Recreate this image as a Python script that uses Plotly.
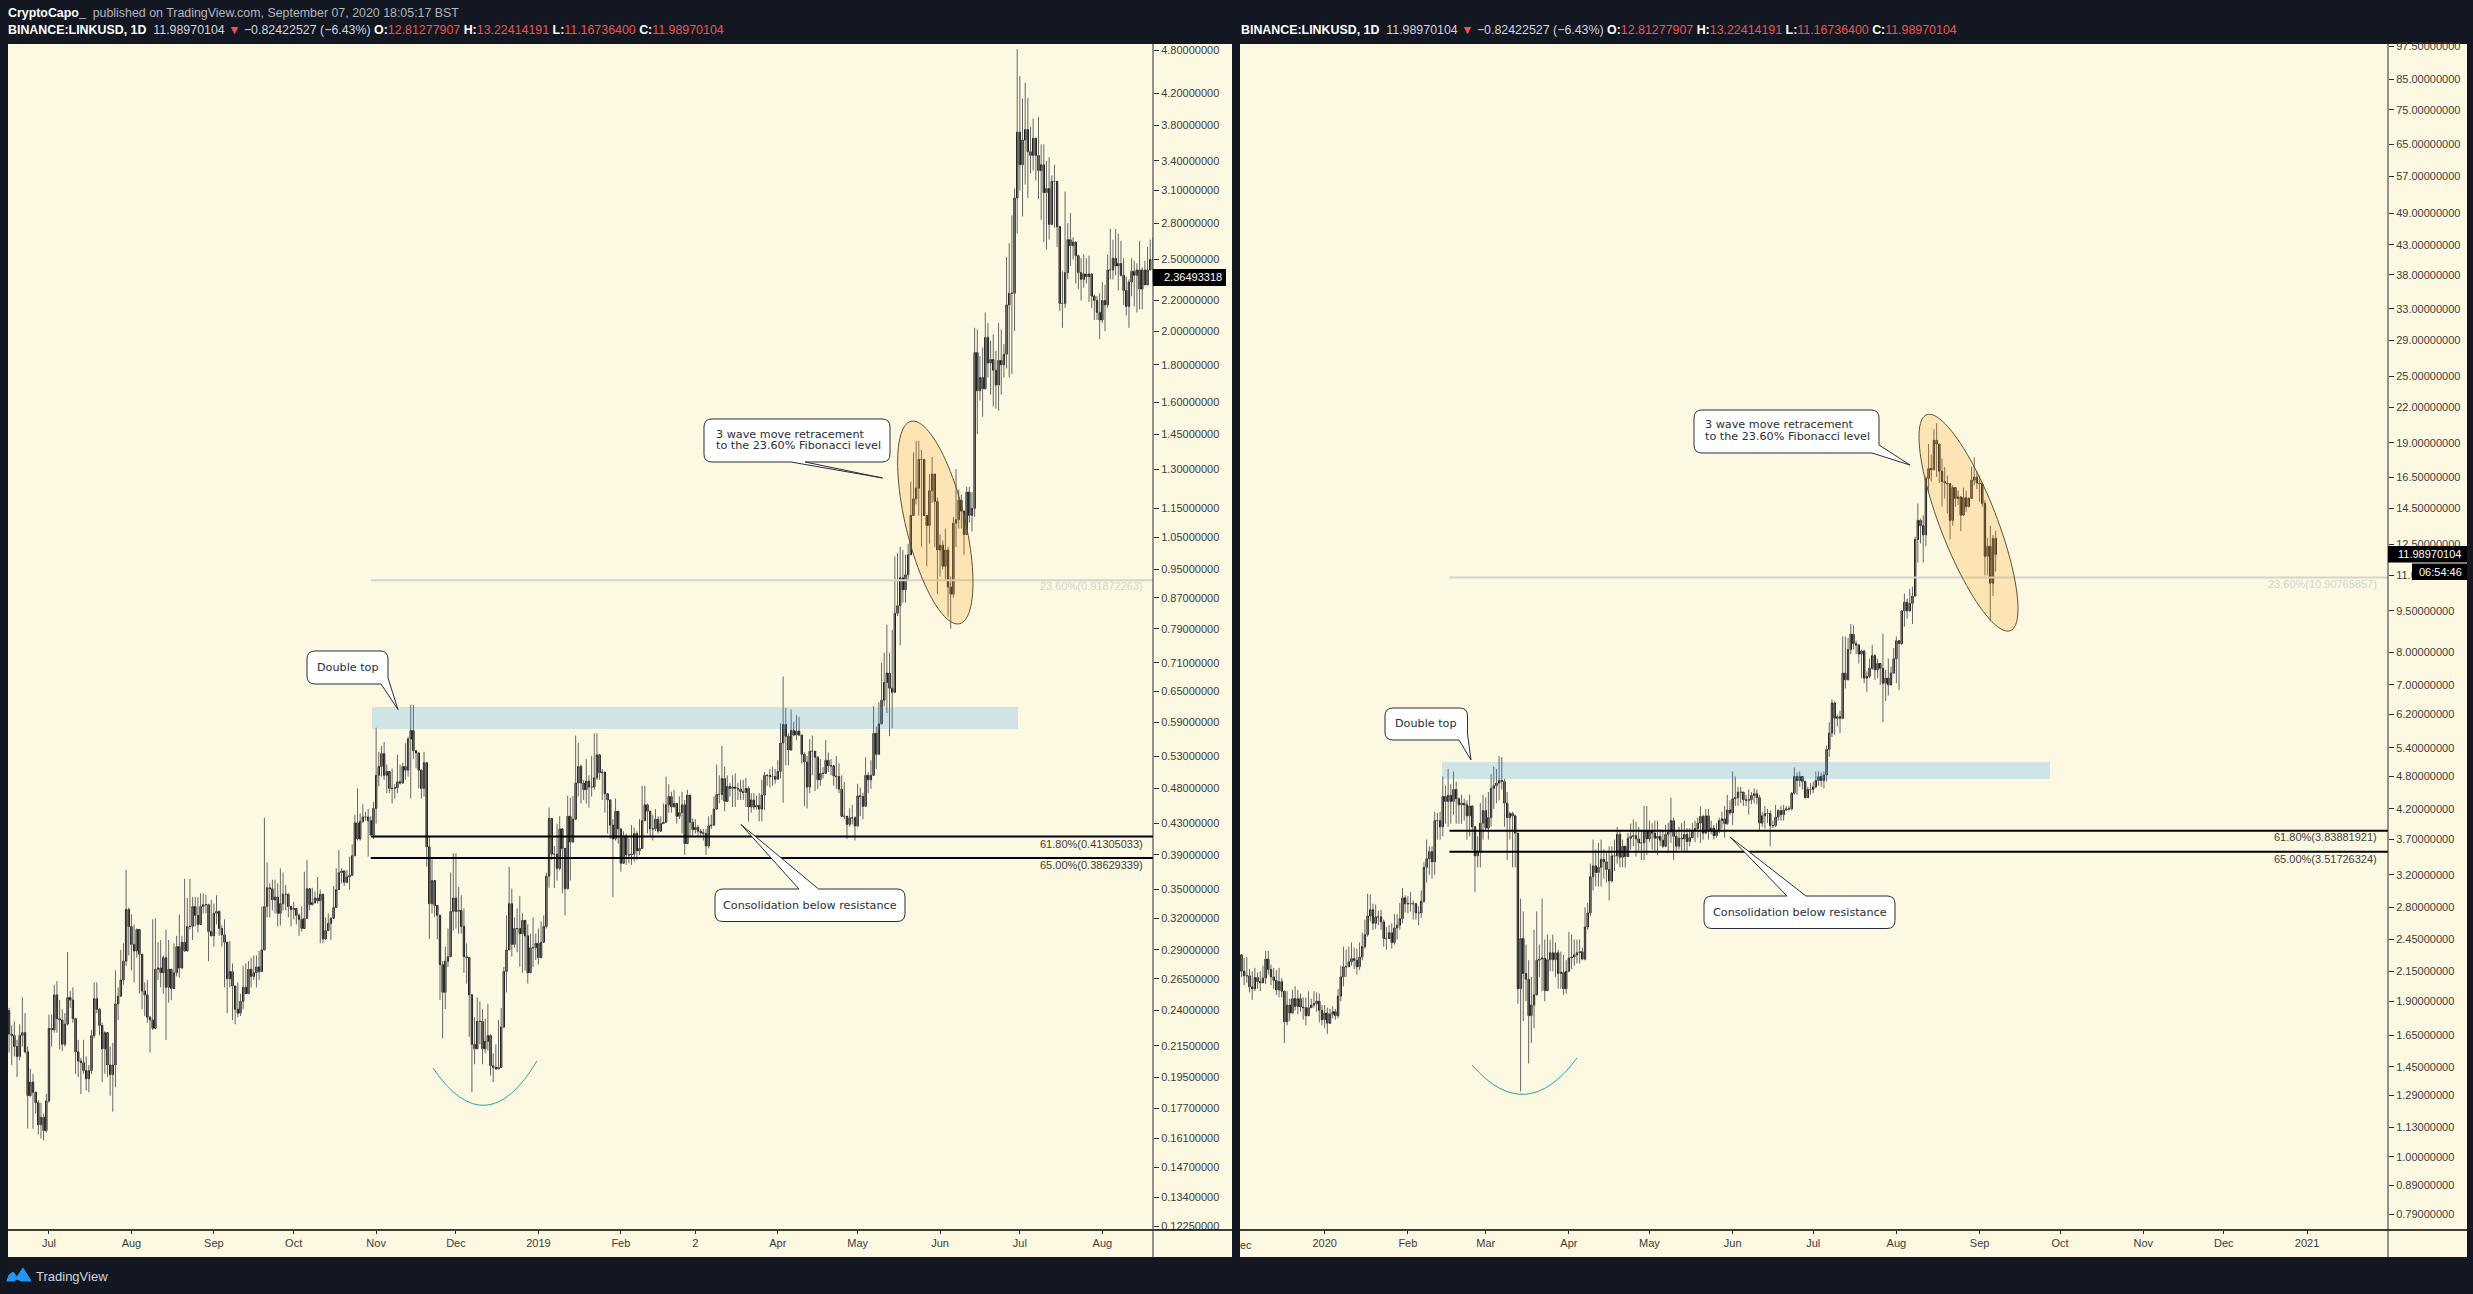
import plotly.graph_objects as go
import pandas as pd

# ---------- values ----------
L_START = "2018-06-16"
L_OPEN0 = 0.24
L_CLOSE = [
.223,.222,.2145,.208,.222,.224,.211,.184,.192,.186,
.18,.168,.172,.165,.181,.227,.226,.252,.234,.233,
.216,.23,.25,.248,.234,.211,.205,.204,.199,.194,
.199,.222,.249,.241,.229,.213,.224,.2025,.1965,.2025,
.245,.251,.264,.28,.329,.312,.295,.289,.309,.286,
.255,.252,.235,.233,.227,.273,.274,.27,.283,.258,
.273,.257,.27,.293,.274,.297,.289,.312,.312,.332,
.323,.314,.332,.334,.334,.307,.303,.325,.327,.31,
.304,.297,.265,.271,.259,.241,.238,.247,.258,.253,
.273,.267,.27,.275,.271,.29,.332,.352,.351,.339,
.342,.325,.335,.345,.345,.332,.329,.33,.323,.319,
.31,.32,.351,.334,.336,.341,.338,.345,.30,.308,
.315,.32,.331,.35,.369,.371,.358,.364,.366,.389,
.431,.41,.433,.439,.439,.434,.415,.451,.50,.514,
.535,.50,.506,.48,.48,.481,.49,.488,.514,.508,
.56,.575,.54,.536,.508,.48,.52,.40,.335,.36,
.333,.323,.277,.254,.28,.284,.327,.341,.327,.328,
.312,.284,.283,.252,.216,.213,.232,.232,.213,.218,
.222,.202,.201,.2,.201,.228,.271,.29,.335,.295,
.31,.31,.305,.318,.303,.27,.292,.292,.296,.283,
.297,.312,.365,.437,.391,.391,.374,.423,.398,.351,
.44,.406,.436,.488,.514,.488,.478,.491,.482,.482,
.496,.533,.504,.505,.472,.463,.428,.41,.447,.423,
.38,.414,.39,.39,.391,.417,.395,.398,.434,.456,
.447,.423,.423,.436,.42,.43,.432,.456,.468,.453,
.458,.44,.445,.456,.404,.47,.432,.422,.425,.42,
.418,.417,.401,.427,.428,.45,.471,.471,.495,.461,
.483,.48,.482,.48,.479,.475,.474,.48,.453,.463,
.453,.455,.45,.47,.5,.5,.498,.498,.494,.506,
.553,.586,.565,.541,.575,.567,.574,.567,.534,.521,
.482,.539,.539,.529,.493,.503,.503,.524,.515,.515,
.499,.498,.479,.44,.44,.429,.438,.438,.427,.469,
.468,.454,.5,.493,.5,.57,.534,.587,.632,.668,
.688,.656,.648,.829,.849,.926,.892,.935,.995,1.125,
1.185,1.225,1.34,1.34,1.125,1.09,1.215,1.28,1.175,1.01,
1.025,.96,1.01,.9,.88,1.098,1.11,1.18,1.14,1.06,
1.21,1.125,1.15,1.87,1.66,1.73,1.67,1.96,1.81,1.83,
1.77,1.69,1.825,1.8,1.86,2.17,2.25,2.25,3.03,3.72,
3.36,3.63,3.75,3.5,3.46,3.65,3.46,3.3,3.36,3.08,
3.12,2.79,3.19,3.19,2.77,2.18,2.18,2.4,2.66,2.61,
2.64,2.53,2.4,2.35,2.39,2.37,2.39,2.23,2.2,2.12,
2.07,2.2,2.17,2.42,2.42,2.51,2.45,2.47,2.38,2.27,
2.16,2.33,2.41,2.38,2.42,2.28,2.42,2.31,2.42,2.5,
2.5]
L_HIGH = [
.242,.229,.232,.219,.23,.25,.238,.2145,.2,.197,
.185,.1815,.18,.174,.185,.237,.237,.26,.263,.248,
.241,.238,.288,.255,.258,.233,.219,.207,.219,.208,
.2025,.226,.262,.262,.242,.231,.225,.2145,.2145,.217,
.272,.258,.29,.296,.372,.331,.324,.314,.31,.29,
.258,.262,.264,.236,.319,.32,.297,.299,.285,.309,
.299,.272,.296,.303,.324,.303,.362,.341,.362,.342,
.342,.342,.346,.346,.344,.335,.339,.335,.344,.328,
.313,.319,.296,.298,.278,.246,.262,.253,.276,.278,
.28,.283,.285,.285,.289,.332,.438,.381,.357,.361,
.361,.357,.374,.369,.355,.346,.333,.337,.328,.325,
.332,.37,.384,.346,.352,.348,.364,.35,.325,.321,
.325,.321,.354,.374,.396,.374,.372,.372,.388,.403,
.442,.48,.444,.457,.446,.45,.44,.46,.58,.538,
.548,.555,.517,.503,.511,.486,.533,.517,.52,.553,
.564,.623,.623,.541,.538,.51,.538,.52,.413,.387,
.339,.333,.301,.28,.293,.31,.369,.392,.392,.353,
.344,.33,.296,.282,.25,.235,.25,.247,.241,.234,
.245,.223,.21,.216,.233,.242,.275,.323,.376,.351,
.321,.33,.343,.325,.31,.314,.305,.321,.305,.31,
.317,.323,.369,.452,.437,.401,.43,.44,.417,.398,
.469,.466,.469,.566,.553,.517,.493,.526,.5,.531,
.57,.57,.533,.51,.498,.465,.463,.436,.465,.428,
.423,.42,.417,.414,.428,.425,.42,.436,.484,.484,
.458,.447,.442,.45,.44,.44,.458,.498,.486,.475,
.478,.45,.468,.475,.463,.478,.449,.437,.436,.428,
.423,.423,.423,.44,.442,.468,.517,.5,.548,.514,
.5,.488,.5,.503,.488,.493,.493,.496,.483,.473,
.473,.469,.473,.493,.505,.5,.51,.513,.51,.524,
.588,.681,.617,.57,.614,.591,.603,.6,.563,.537,
.531,.56,.566,.534,.531,.526,.513,.558,.537,.526,
.51,.531,.519,.5,.49,.44,.451,.456,.44,.487,
.481,.473,.529,.505,.524,.62,.582,.628,.71,.733,
.8,.733,.787,.99,1.0,1.02,1.01,.995,1.03,1.25,
1.37,1.42,1.42,1.38,1.25,1.11,1.28,1.35,1.28,1.19,
1.06,1.04,1.08,1.02,.93,1.12,1.3,1.22,1.2,1.12,
1.23,1.23,1.21,2.02,2.01,1.85,1.9,2.12,2.05,1.94,
1.98,1.88,2.05,2.01,1.92,2.52,2.63,2.87,3.12,4.82,
4.43,4.13,4.34,4.14,3.78,3.88,3.65,3.9,3.58,3.58,
3.4,3.44,3.25,3.36,3.19,2.72,2.41,3.09,2.8,2.89,
2.68,2.58,2.54,2.51,2.54,2.51,2.53,2.31,2.24,2.23,
2.25,2.33,2.31,2.54,2.75,2.66,2.75,2.71,2.65,2.51,
2.37,2.35,2.51,2.49,2.47,2.65,2.44,2.49,2.6,2.66,
2.68]
L_LOW = [
.2105,.2025,.208,.195,.2055,.2145,.21,.166,.1835,.166,
.174,.163,.161,.16,.164,.18,.2145,.224,.224,.2125,
.2115,.2145,.229,.242,.231,.197,.195,.185,.197,.187,
.186,.197,.22,.238,.222,.192,.197,.195,.184,.175,
.189,.233,.253,.26,.276,.285,.272,.262,.283,.253,
.241,.236,.231,.2105,.226,.264,.264,.258,.253,.219,
.246,.248,.263,.267,.266,.276,.299,.303,.309,.299,
.312,.306,.325,.325,.325,.28,.303,.293,.314,.303,
.293,.258,.238,.258,.233,.23,.235,.236,.241,.253,
.255,.258,.264,.258,.264,.276,.325,.321,.321,.328,
.325,.312,.313,.328,.328,.321,.312,.319,.314,.303,
.307,.319,.334,.328,.333,.335,.335,.296,.296,.299,
.314,.299,.325,.35,.364,.357,.354,.357,.35,.384,
.404,.408,.408,.431,.434,.388,.416,.41,.43,.483,
.498,.493,.473,.473,.458,.465,.473,.486,.493,.493,
.498,.465,.526,.511,.48,.465,.468,.376,.3,.325,
.321,.3,.248,.22,.241,.275,.305,.308,.31,.305,
.305,.27,.261,.221,.186,.203,.215,.216,.203,.21,
.212,.196,.192,.2,.2,.201,.227,.254,.29,.284,
.292,.288,.275,.27,.272,.261,.278,.275,.281,.277,
.296,.3,.31,.352,.384,.352,.36,.372,.346,.323,
.35,.36,.406,.436,.468,.458,.463,.458,.452,.468,
.478,.493,.493,.463,.445,.417,.41,.342,.408,.404,
.37,.38,.378,.38,.378,.382,.384,.39,.408,.436,
.417,.414,.408,.42,.417,.42,.43,.44,.445,.445,
.453,.43,.436,.417,.39,.417,.414,.414,.417,.414,
.414,.408,.39,.398,.423,.428,.453,.458,.463,.447,
.463,.468,.453,.453,.463,.463,.463,.453,.433,.445,
.449,.449,.433,.433,.449,.484,.481,.484,.487,.495,
.495,.459,.516,.516,.553,.565,.558,.565,.519,.454,
.451,.473,.5,.476,.479,.484,.495,.505,.505,.5,
.484,.479,.473,.449,.436,.41,.426,.429,.408,.425,
.44,.436,.464,.473,.479,.534,.51,.534,.602,.62,
.607,.565,.579,.684,.822,.75,.857,.857,.92,1.03,
1.125,1.165,1.125,1.02,1.125,.96,1.03,1.17,1.02,.88,
.93,.95,.92,.82,.79,.87,1.02,1.08,1.08,.995,
1.07,1.1,1.07,1.12,1.45,1.61,1.53,1.67,1.73,1.64,
1.58,1.57,1.56,1.64,1.73,1.78,1.73,1.75,2.0,2.71,
3.1,2.86,3.16,3.03,3.27,3.3,3.2,3.02,2.83,2.64,
2.58,2.66,2.9,2.76,2.6,2.13,2.02,2.15,2.35,2.45,
2.5,2.32,2.28,2.2,2.29,2.32,2.19,2.15,2.07,2.07,
1.95,2.05,2.0,2.15,2.35,2.35,2.38,2.27,2.37,2.17,
2.1,2.02,2.23,2.16,2.12,2.14,2.14,2.31,2.37,2.42,
2.32]

R_START = "2019-12-01"
R_OPEN0 = 2.3
R_CLOSE = [
2.15,2.11,2.11,2.015,2.0,2.095,2.06,2.05,2.09,2.26,
2.165,2.1,2.07,1.99,2.06,1.98,1.745,1.87,1.81,1.92,
1.86,1.92,1.855,1.85,1.79,1.85,1.87,1.88,1.9,1.83,
1.76,1.81,1.735,1.8,1.82,1.79,1.94,2.1,2.19,2.19,
2.235,2.265,2.25,2.19,2.28,2.38,2.5,2.7,2.77,2.62,
2.69,2.69,2.635,2.46,2.46,2.52,2.42,2.57,2.6,2.67,
2.91,2.84,2.84,2.84,2.84,2.735,2.735,2.87,3.3,3.42,
3.52,3.375,4.0,4.0,3.9,4.42,4.33,4.44,4.33,4.55,
4.38,4.27,4.3,4.27,4.08,4.25,3.9,3.46,3.53,3.96,
4.17,3.88,4.05,4.57,4.62,4.67,4.72,4.7,4.3,4.05,
4.12,4.08,3.8,2.0,2.46,2.13,2.08,1.79,1.87,1.95,
2.25,2.26,2.27,1.985,2.255,2.32,2.255,2.32,2.13,2.14,
2.0,2.15,2.27,2.28,2.3,2.32,2.33,2.26,2.58,2.735,
3.175,3.32,3.23,3.3,3.41,3.375,3.27,3.12,3.46,3.46,
3.78,3.44,3.6,3.45,3.72,3.75,3.76,3.71,3.65,3.65,
3.84,3.71,3.84,3.8,3.72,3.75,3.69,3.6,3.78,3.82,
4.0,3.75,3.6,3.72,3.71,3.78,3.67,3.73,3.84,3.87,
3.96,4.07,3.8,4.08,3.84,3.88,3.76,3.85,4.0,4.03,
3.95,4.18,4.13,4.38,4.4,4.5,4.5,4.36,4.35,4.36,
4.44,4.47,4.4,3.96,4.08,4.12,4.12,3.92,3.92,4.06,
4.17,4.1,4.18,4.2,4.2,4.48,4.8,4.72,4.8,4.7,
4.4,4.55,4.55,4.6,4.72,4.8,4.72,4.83,5.37,5.74,
6.5,6.1,6.14,6.1,7.35,7.15,8.1,8.63,8.3,8.25,
7.95,8.05,7.2,7.25,7.5,7.9,7.45,7.65,7.5,7.05,
7.2,7.0,7.35,7.8,8.4,8.3,9.5,9.85,9.5,9.8,
10.1,12.75,13.8,13.5,13.0,16.4,17.1,17.0,19.2,18.9,
16.9,16.2,16.1,16.05,13.8,15.8,15.1,15.2,14.1,15.15,
14.6,15.1,16.3,16.5,16.1,16.05,14.8,11.9,12.4,10.65,
12.81277907,11.98970104]
R_HIGH = [
2.29,2.27,2.28,2.17,2.15,2.18,2.14,2.15,2.2,2.34,
2.34,2.21,2.18,2.16,2.18,2.09,1.98,1.98,1.92,1.99,
2.02,1.99,1.96,1.93,1.93,1.98,1.92,1.98,1.97,1.96,
1.87,1.87,1.85,1.84,1.86,1.84,2.0,2.2,2.38,2.35,
2.38,2.42,2.37,2.36,2.42,2.52,2.66,2.96,2.95,2.84,
2.83,2.76,2.77,2.66,2.58,2.6,2.62,2.72,2.72,2.85,
3.03,2.94,2.93,2.98,2.88,2.83,2.81,3.0,3.37,3.7,
3.6,3.6,4.15,4.13,4.15,4.8,4.62,4.95,4.65,4.9,
4.7,4.4,4.45,4.38,4.35,4.45,4.25,3.65,3.75,4.3,
4.45,4.4,4.5,4.85,5.0,4.95,5.22,5.2,4.75,4.5,
4.15,4.15,4.1,3.8,2.9,2.75,2.4,2.25,2.1,2.55,
2.75,2.4,2.9,2.45,2.5,2.45,2.5,2.42,2.35,2.33,
2.3,2.25,2.53,2.5,2.45,2.45,2.45,2.37,2.8,2.85,
3.35,3.7,3.55,3.65,3.7,3.55,3.5,3.6,3.6,3.7,
3.9,3.85,3.7,3.6,3.8,3.95,4.02,3.98,3.9,3.85,
4.25,4.25,4.0,3.96,4.0,4.0,3.86,3.84,3.93,3.96,
4.4,4.05,3.85,3.9,3.96,4.0,3.88,3.88,3.96,4.0,
4.05,4.24,4.1,4.2,4.2,4.0,3.93,3.96,4.05,4.15,
4.25,4.45,4.35,4.9,4.8,4.6,4.6,4.4,4.45,4.55,
4.5,4.57,4.55,4.45,4.15,4.25,4.2,4.17,4.0,4.27,
4.2,4.25,4.27,4.25,4.25,4.5,4.98,4.88,4.9,4.8,
4.72,4.6,4.67,4.7,4.9,4.9,4.88,4.9,5.45,6.0,
6.6,6.55,6.2,6.3,8.55,8.55,8.5,9.0,8.95,8.4,
8.3,8.1,8.1,7.4,7.8,8.25,7.95,7.8,7.65,8.65,
7.45,7.8,7.55,8.15,8.55,8.4,9.4,10.2,10.0,10.4,
10.5,12.9,14.8,13.9,14.1,16.55,18.9,18.1,20.1,20.6,
18.9,17.8,17.2,16.6,16.05,15.95,15.7,15.6,14.9,15.8,
15.6,15.2,17.2,17.9,16.9,16.6,16.05,15.0,12.85,13.5,
13.0,13.22414191]
R_LOW = [
2.1,2.03,2.05,1.97,1.91,1.98,2.0,1.98,2.06,2.04,
2.12,2.03,2.0,1.95,1.93,1.93,1.6,1.72,1.75,1.85,
1.83,1.8,1.82,1.76,1.72,1.79,1.85,1.85,1.82,1.74,
1.72,1.7,1.66,1.73,1.77,1.76,1.77,1.9,2.02,2.1,
2.19,2.2,2.17,2.12,2.16,2.25,2.36,2.48,2.64,2.55,
2.56,2.6,2.55,2.38,2.35,2.47,2.36,2.4,2.45,2.55,
2.62,2.74,2.73,2.75,2.66,2.66,2.6,2.68,2.85,3.1,
3.2,3.15,3.2,3.7,3.7,3.75,3.95,3.9,3.95,4.1,
3.95,3.95,3.95,4.0,3.7,3.75,3.55,2.98,3.3,3.3,
3.7,3.85,3.7,3.9,4.2,4.3,4.35,4.55,3.9,3.4,
3.7,3.3,3.3,1.88,1.31,1.75,1.9,1.47,1.6,1.7,
2.05,2.1,1.98,1.9,2.1,2.15,2.15,2.1,2.0,2.0,
1.95,1.96,2.15,2.17,2.2,2.22,2.22,2.25,2.25,2.55,
2.7,3.0,3.05,3.05,3.05,3.15,3.1,2.88,3.1,3.25,
3.35,3.3,3.3,3.3,3.5,3.55,3.6,3.45,3.5,3.4,
3.4,3.47,3.66,3.55,3.53,3.47,3.6,3.57,3.67,3.5,
3.65,3.4,3.5,3.55,3.52,3.52,3.52,3.6,3.73,3.66,
3.73,3.65,3.7,3.8,3.7,3.78,3.7,3.73,3.8,3.87,
3.73,3.93,4.1,3.93,4.25,4.25,4.3,4.25,4.25,4.1,
4.28,4.3,4.28,3.85,3.9,3.87,3.96,3.6,3.88,3.9,
4.0,4.0,4.0,4.17,4.17,4.17,4.45,4.45,4.6,4.55,
4.38,4.45,4.45,4.48,4.57,4.62,4.6,4.57,4.7,5.2,
5.65,5.7,5.9,5.74,6.85,6.9,7.25,7.95,8.1,7.95,
7.65,7.2,7.05,6.8,7.2,7.45,7.15,7.2,7.0,6.0,
6.55,6.7,7.05,7.35,7.05,6.85,8.25,8.9,9.2,9.7,
9.0,10.1,11.6,12.55,11.6,12.4,15.5,16.2,17.0,16.5,
16.1,14.6,15.1,14.2,12.75,13.5,14.6,14.7,13.2,14.2,
14.3,14.6,15.2,15.95,15.7,14.9,14.6,11.0,11.0,9.1,
10.1,11.167364]

L_YTICKS = [4.8,4.2,3.8,3.4,3.1,2.8,2.5,2.2,2.0,1.8,1.6,1.45,1.3,1.15,1.05,.95,.87,.79,.71,.65,.59,.53,.48,.43,.39,.35,.32,.29,.265,.24,.215,.195,.177,.161,.147,.134,.1225]
R_YTICKS = [97.5,85,75,65,57,49,43,38,33,29,25,22,19,16.5,14.5,12.5,11,9.5,8,7,6.2,5.4,4.8,4.2,3.7,3.2,2.8,2.45,2.15,1.9,1.65,1.45,1.29,1.13,1.0,.89,.79]
L_XTICKS = ["2018-07-01","2018-08-01","2018-09-01","2018-10-01","2018-11-01","2018-12-01","2019-01-01","2019-02-01","2019-03-01","2019-04-01","2019-05-01","2019-06-01","2019-07-01","2019-08-01"]
L_XLABELS = ["Jul","Aug","Sep","Oct","Nov","Dec","2019","Feb","2","Apr","May","Jun","Jul","Aug"]
R_XTICKS = ["2020-01-01","2020-02-01","2020-03-01","2020-04-01","2020-05-01","2020-06-01","2020-07-01","2020-08-01","2020-09-01","2020-10-01","2020-11-01","2020-12-01","2021-01-01"]
R_XLABELS = ["2020","Feb","Mar","Apr","May","Jun","Jul","Aug","Sep","Oct","Nov","Dec","2021"]

L_FIB = {"23.60%(0.91872263)":0.91872263,"61.80%(0.41305033)":0.41305033,"65.00%(0.38629339)":0.38629339}
R_FIB = {"23.60%(10.90765857)":10.90765857,"61.80%(3.83881921)":3.83881921,"65.00%(3.51726324)":3.51726324}
HEADER1 = "<b>CryptoCapo_</b>  <span style='color:#b2b5be'>published on TradingView.com, September 07, 2020 18:05:17 BST</span>"
QUOTE = ("<b>BINANCE:LINKUSD, 1D</b>  <span style='color:#d1d4dc'>11.98970104</span> <span style='color:#ef5350'>▼</span> "
         "<span style='color:#d1d4dc'>−0.82422527 (−6.43%)</span> <b>O:</b><span style='color:#ef5350'>12.81277907</span> "
         "<b>H:</b><span style='color:#ef5350'>13.22414191</span> <b>L:</b><span style='color:#ef5350'>11.16736400</span> "
         "<b>C:</b><span style='color:#ef5350'>11.98970104</span>")

# ---------- page layout (pixels of the 2473x1294 page) ----------
W, H = 2473, 1294
DARK, CREAM = "#131722", "#fdf8e2"
NARROW = "Liberation Sans, Arial"
TICK_SIZE = 11
fx = lambda x: x / W
fy = lambda y: 1 - y / H
pt = lambda x, y: f"{fx(x):.6f} {fy(y):.6f}"
shapes, notes = [], []

def rect(x0, y0, x1, y1, fill, layer="above", line=None):
    shapes.append(dict(type="rect", xref="paper", yref="paper", x0=fx(x0), x1=fx(x1), y0=fy(y1), y1=fy(y0),
                       fillcolor=fill, line=dict(width=0 if line is None else 1, color=line or fill), layer=layer))

def seg(x0, y0, x1, y1, color="#131722", width=1):
    shapes.append(dict(type="line", xref="paper", yref="paper", x0=fx(x0), x1=fx(x1), y0=fy(y0), y1=fy(y1),
                       line=dict(color=color, width=width), layer="above"))

def text(x, y, s, size=13, color="#3c3c3c", anchor="center", font=NARROW):
    notes.append(dict(xref="paper", yref="paper", x=fx(x), y=fy(y), text=s, showarrow=False, xanchor=anchor, yanchor="middle",
                      align="left", font=dict(size=size, color=color, family=font)))

def callout(x0, y0, x1, y1, top=None, corner=None, bottom=None, r=8):
    p = ["M " + pt(x0 + r, y0)]
    for a in (top or []):
        p.append("L " + pt(*a))
    p += ["L " + pt(x1 - r, y0), "Q " + pt(x1, y0) + " " + pt(x1, y0 + r)]
    if corner:
        p += ["L " + pt(*a) for a in corner]
    else:
        p += ["L " + pt(x1, y1 - r), "Q " + pt(x1, y1) + " " + pt(x1 - r, y1)]
    for a in (bottom or []):
        p.append("L " + pt(*a))
    p += ["L " + pt(x0 + r, y1), "Q " + pt(x0, y1) + " " + pt(x0, y1 - r), "L " + pt(x0, y0 + r), "Q " + pt(x0, y0) + " " + pt(x0 + r, y0), "Z"]
    shapes.append(dict(type="path", xref="paper", yref="paper", path=" ".join(p), fillcolor="#ffffff",
                       line=dict(color="#2a2e39", width=1), layer="above"))

def ellipse(cx, cy, a, b, deg):
    import math
    t = math.radians(deg)
    pts = []
    for i in range(96):
        u = 2 * math.pi * i / 96
        pts.append((cx + a * math.cos(u) * math.cos(t) - b * math.sin(u) * math.sin(t),
                    cy + a * math.cos(u) * math.sin(t) + b * math.sin(u) * math.cos(t)))
    path = "M " + " L ".join(pt(*q) for q in pts) + " Z"
    shapes.append(dict(type="path", xref="paper", yref="paper", path=path, fillcolor="rgba(255,152,0,0.2)",
                       line=dict(color="#5d5132", width=1), layer="above"))

def arc(a, c, b):
    shapes.append(dict(type="path", xref="paper", yref="paper", path=f"M {pt(*a)} Q {pt(*c)} {pt(*b)}",
                       line=dict(color="#26a69a", width=1), layer="above"))

# panels
rect(8, 44, 1232, 1257, CREAM, "below")
rect(1240, 44, 2467, 1257, CREAM, "below")

def add_panel(fig, start, open0, close, high, low, xa, ya):
    n = len(close)
    dates = pd.date_range(start, periods=n, freq="D")
    opens = [open0] + close[:-1]
    top = [max(o, c) for o, c in zip(opens, close)]
    bot = [min(o, c) for o, c in zip(opens, close)]
    wx, wy = [], []
    for d, h, l, t, b in zip(dates, high, low, top, bot):
        wx += [d, d, None]
        wy += [max(h, t), min(l, b), None]
    fig.add_trace(go.Scatter(x=wx, y=wy, mode="lines", line=dict(color="#666666", width=1), xaxis=xa, yaxis=ya,
                             hoverinfo="skip", showlegend=False))
    fig.add_trace(go.Candlestick(x=dates, open=opens, high=top, low=bot, close=close, xaxis=xa, yaxis=ya, showlegend=False,
                                 increasing=dict(line=dict(color="#000000", width=1), fillcolor="#fffdf5"),
                                 decreasing=dict(line=dict(color="#000000", width=1), fillcolor="#000000"),
                                 whiskerwidth=0))

fig = go.Figure()
add_panel(fig, L_START, L_OPEN0, L_CLOSE, L_HIGH, L_LOW, "x", "y")
add_panel(fig, R_START, R_OPEN0, R_CLOSE, R_HIGH, R_LOW, "x2", "y2")

def fib(levels, start, end, xa, ya):
    for k, (name, v) in enumerate(levels.items()):
        fig.add_trace(go.Scatter(x=[start, end], y=[v, v], mode="lines", xaxis=xa, yaxis=ya, hoverinfo="skip", showlegend=False,
                                 line=dict(color="#d6d4cc" if k == 0 else "#000000", width=2)))

fib(L_FIB, "2018-10-30", "2019-08-21", "x", "y")
fib(R_FIB, "2020-02-16 12:00", "2021-02-01", "x2", "y2")

# blue zones
rect(372, 707, 1018, 729, "rgba(33,150,243,0.2)")
rect(1442, 762, 2050, 779, "rgba(33,150,243,0.2)")
# ellipses
ellipse(935.3, 522.5, 104.1, 29.6, 76.5)
ellipse(1968.5, 522.7, 115.8, 28.3, 68.8)
# arcs
arc((433, 1068), (486, 1146), (537, 1061))
arc((1472, 1065), (1526, 1127), (1577, 1058))
# callouts
callout(704, 419, 890, 462, bottom=[(805, 462), (882.5, 478), (791, 462)])
callout(1694, 410, 1879, 453, corner=[(1879, 445), (1910, 465), (1872, 453)])
callout(307, 651, 388, 684, corner=[(388, 678), (398, 709.5), (381, 684)])
callout(1385, 708, 1467.5, 740, corner=[(1467.5, 734), (1471, 760), (1459, 740)])
callout(715, 889, 905, 921.5, top=[(799, 889), (741, 824.5), (818.5, 889)])
callout(1704, 896, 1895, 928.5, top=[(1787, 896), (1730, 837), (1806, 896)])
NOTE_FONT = "DejaVu Sans"
NOTE_SIZE = 11.2
for x, y0, y1 in ((714, 434, 445), (1703, 425, 436.5)):
    text(x, y0, "3 wave move retracement", NOTE_SIZE, "#2a2e39", "left", NOTE_FONT)
    text(x, y1, "to the 23.60% Fibonacci level", NOTE_SIZE, "#2a2e39", "left", NOTE_FONT)
for x, y in ((347.5, 667), (1426, 723)):
    text(x, y, "Double top", NOTE_SIZE, "#2a2e39", "center", NOTE_FONT)
for x, y in ((810, 905), (1800, 912)):
    text(x, y, "Consolidation below resistance", NOTE_SIZE, "#2a2e39", "center", NOTE_FONT)

# fib labels
for (name, c, y) in zip(L_FIB, ("#d6d4cc", "#3c3c3c", "#3c3c3c"), (586, 844, 865)):
    text(1145, y, name, TICK_SIZE, c, "right")
for (name, c, y) in zip(R_FIB, ("#d6d4cc", "#3c3c3c", "#3c3c3c"), (583.5, 837, 858.6)):
    text(2379, y, name, TICK_SIZE, c, "right")

# axis frame
seg(8, 1230, 1232, 1230, "#000000", 1.5)
seg(1240, 1230, 2467, 1230, "#000000", 1.5)
seg(1153, 44, 1153, 1257, "#2a2e39", 1)
seg(2388, 44, 2388, 1257, "#2a2e39", 1)

# last price tags
rect(1153, 269, 1226, 286, "#000000")
text(1162, 277.5, "2.36493318", TICK_SIZE, "#ffffff", "left")
rect(2388, 546, 2467, 562.5, "#000000")
text(2396, 554, "11.98970104", TICK_SIZE, "#ffffff", "left")
rect(2412, 563.5, 2467, 580, "#000000")
text(2440, 572, "06:54:46", TICK_SIZE, "#ffffff", "center")
text(1246, 1245, "ec", TICK_SIZE, "#3c3c3c", "center")

# header and footer
text(6, 13, HEADER1, 12.4, "#ffffff", "left")
text(6, 30, QUOTE, 12.4, "#ffffff", "left")
text(1239, 30, QUOTE, 12.4, "#ffffff", "left")
shapes.append(dict(type="path", xref="paper", yref="paper", fillcolor="#2196f3", line=dict(color="#2196f3", width=1), layer="above",
                   path="M " + " L ".join(pt(*q) for q in [(7, 1281), (9, 1275), (13, 1272), (17, 1277), (23, 1268), (31, 1281), (21, 1281), (17, 1279), (14, 1281)]) + " Z"))
text(34, 1276, "TradingView", 13, "#d1d4dc", "left")

y_top_dom = [1 - 1230 / H, 1 - 44 / H]
def y_axis(x_anchor, vals, rng):
    return dict(type="log", range=rng, domain=y_top_dom, side="right", anchor=x_anchor, showgrid=False, zeroline=False,
                tickmode="array", tickvals=vals, ticktext=[f"{v:.8f}" for v in vals], ticks="outside", ticklen=5,
                tickcolor="#2a2e39", tickfont=dict(family=NARROW, size=TICK_SIZE, color="#3c3c3c"), showline=False, fixedrange=True)
def x_axis(y_anchor, dom, rng, vals, labels):
    return dict(type="date", domain=dom, range=rng, anchor=y_anchor, showgrid=False, zeroline=False, rangeslider=dict(visible=False),
                tickmode="array", tickvals=vals, ticktext=labels, ticks="outside", ticklen=3, tickcolor="#2a2e39",
                tickfont=dict(family=NARROW, size=TICK_SIZE, color="#3c3c3c"), showline=False, fixedrange=True)

import math
fig.update_layout(
    width=W, height=H, margin=dict(l=0, r=0, t=0, b=0, autoexpand=False), autosize=False,
    paper_bgcolor=DARK, plot_bgcolor=CREAM, showlegend=False,
    xaxis=x_axis("y", [8 / W, 1153 / W], ["2018-06-15 14:24", "2019-08-20 01:12"], L_XTICKS, L_XLABELS),
    yaxis=y_axis("x", L_YTICKS, [math.log10(0.1210), math.log10(4.898)]),
    xaxis2=x_axis("y2", [1240 / W, 2388 / W], ["2019-11-30 11:00", "2021-01-31 04:00"], R_XTICKS, R_XLABELS),
    yaxis2=y_axis("x2", R_YTICKS, [math.log10(0.7396), math.log10(98.4)]),
    shapes=shapes, annotations=notes, hovermode=False,
)
fig.write_html("out.html", config=dict(displayModeBar=False),
               post_script="document.body.style.margin='0';document.body.style.background='#131722';document.documentElement.style.overflow='hidden';")
